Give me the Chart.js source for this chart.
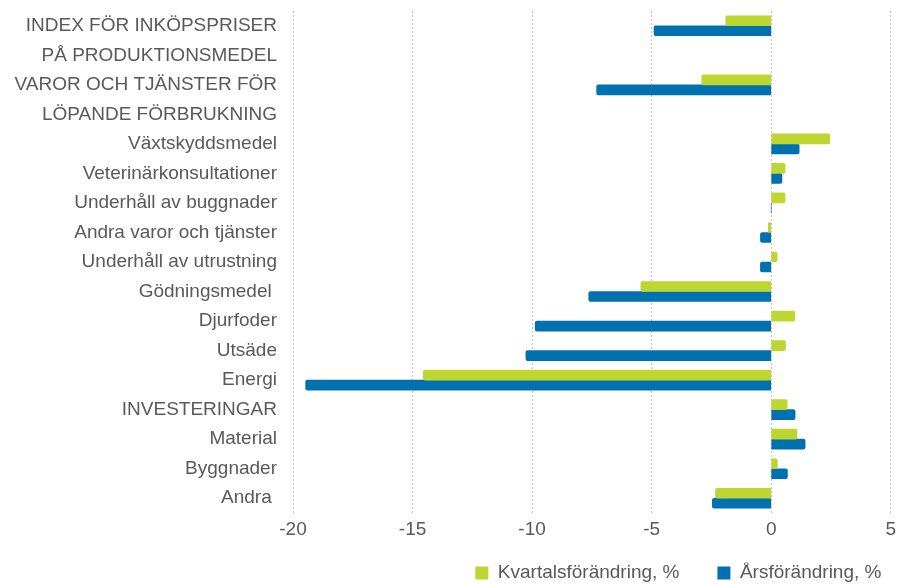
<!DOCTYPE html>
<html>
<head>
<meta charset="utf-8">
<script src="https://cdn.jsdelivr.net/npm/chart.js@4.4.1/dist/chart.umd.min.js"></script>
<style>
    html, body { margin: 0; padding: 0; background: #ffffff; }
    #wrap { width: 901px; height: 584px; position: relative; }
</style>
</head>
<body>
<div id="wrap"><canvas id="chart"></canvas></div>
<script>
// ── DATA ────────────────────────────────────────────────────────
// Two-line headings are kept as separate rows (second line carries no data)
const categories = [
    'INDEX FÖR INKÖPSPRISER',
    'PÅ PRODUKTIONSMEDEL',
    'VAROR OCH TJÄNSTER FÖR',
    'LÖPANDE FÖRBRUKNING',
    'Växtskyddsmedel',
    'Veterinärkonsultationer',
    'Underhåll av buggnader',
    'Andra varor och tjänster',
    'Underhåll av utrustning',
    'Gödningsmedel ',
    'Djurfoder',
    'Utsäde',
    'Energi',
    'INVESTERINGAR',
    'Material',
    'Byggnader',
    'Andra ',
];

const quarterChange = [-1.9, null, -2.9, null, 2.45, 0.58, 0.58, -0.12, 0.25, -5.45, 0.99, 0.6, -14.55, 0.67, 1.08, 0.26, -2.33];
const yearChange    = [-4.9, null, -7.3, null, 1.17, 0.45, 0.0, -0.45, -0.45, -7.63, -9.87, -10.26, -19.47, 1.0, 1.42, 0.68, -2.46];

const seriesNames = ['Kvartalsförändring, %', 'Årsförändring, %'];
const xMin = -20, xMax = 5, xStep = 5;

// ── STYLE ───────────────────────────────────────────────────────
const GREEN = '#bed62f';
const BLUE  = '#0071b0';
const TEXT  = '#595959';
const FONT  = "'Liberation Sans', Arial, sans-serif";
const FONT_SIZE = 19;

// Legend is drawn by Chart.js; trim the fixed 10px it adds below the row
const legendFit = {
    id: 'legendFit',
    afterInit(chart) {
        const fit = chart.legend.fit;
        chart.legend.fit = function () {
            fit.call(this);
            this.height -= 10;
        };
    },
};

const ctx = document.getElementById('chart').getContext('2d');
new Chart(ctx, {
    type: 'bar',
    data: {
        labels: categories,
        datasets: [
            { label: seriesNames[0], data: quarterChange, backgroundColor: GREEN, barThickness: 10, borderRadius: 2, borderSkipped: 'start' },
            { label: seriesNames[1], data: yearChange,    backgroundColor: BLUE,  barThickness: 10, borderRadius: 2, borderSkipped: 'start' },
        ],
    },
    plugins: [legendFit],
    options: {
        indexAxis: 'y',
        responsive: true,
        maintainAspectRatio: false,
        animation: false,
        layout: { padding: { top: 11, right: 8, left: 0, bottom: 1.5 } },
        plugins: {
            tooltip: { enabled: false },
            legend: {
                position: 'bottom',
                align: 'end',
                labels: {
                    color: TEXT,
                    font: { family: FONT, size: FONT_SIZE },
                    boxWidth: 13,
                    boxHeight: 13,
                    padding: 1,
                    // spacing between the two entries comes from trailing blanks
                    generateLabels: function (chart) {
                        const items = Chart.defaults.plugins.legend.labels.generateLabels(chart);
                        items[0].text += '       ';
                        items[1].text += '  ';
                        items.forEach(function (it) { it.lineWidth = 0; });
                        return items;
                    },
                },
            },
        },
        scales: {
            x: {
                min: xMin,
                max: xMax,
                afterFit: function (scale) { scale.height = 49.5; },
                ticks: { stepSize: xStep, color: TEXT, font: { family: FONT, size: FONT_SIZE }, padding: 5 },
                grid: { color: '#c4c4c4', drawTicks: false },
                border: { display: false, dash: [2, 2] },
            },
            y: {
                afterFit: function (scale) {
                    scale.width = 293;
                    scale.paddingTop = 0;
                    scale.paddingBottom = 0;
                },
                ticks: { color: TEXT, font: { family: FONT, size: FONT_SIZE }, padding: 16, autoSkip: false },
                grid: { display: false, drawTicks: false },
                border: { display: false },
            },
        },
    },
});
</script>
</body>
</html>
